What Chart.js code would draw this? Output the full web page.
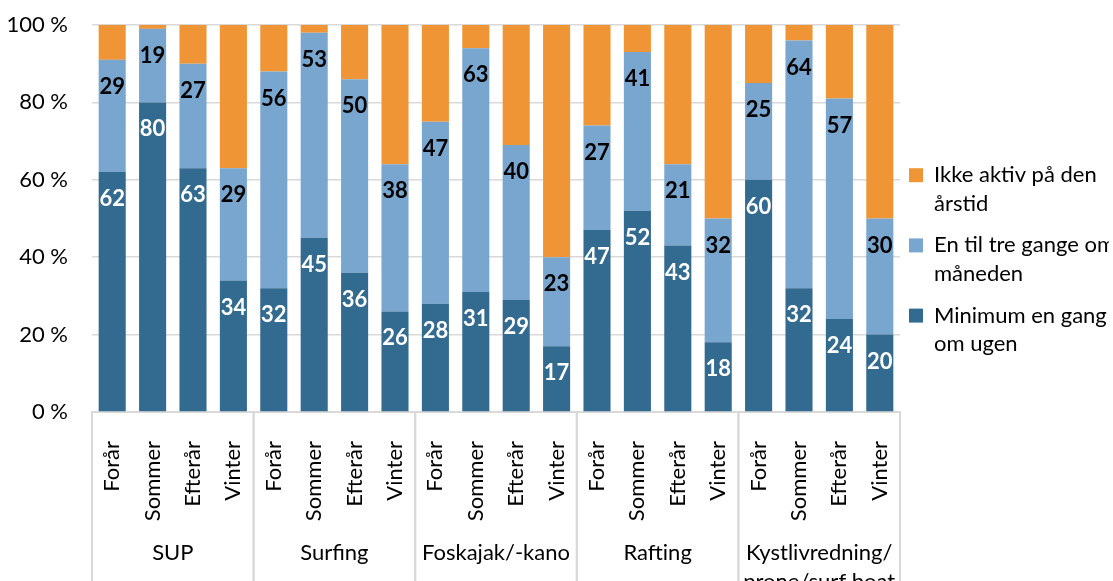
<!DOCTYPE html>
<html>
<head>
<meta charset="utf-8">
<script src="https://cdn.jsdelivr.net/npm/chart.js@4.4.1/dist/chart.umd.min.js"></script>
<style>
  html, body { margin: 0; padding: 0; background: #fff; }
</style>
</head>
<body>
<canvas id="chart" width="1113" height="581"></canvas>
<script>
const seasons = ['Forår', 'Sommer', 'Efterår', 'Vinter'];
const groups = ['SUP', 'Surfing', 'Foskajak/-kano', 'Rafting', ['Kystlivredning/', 'prone/surf boat']];

// share of respondents (%), one value per sport/season, in the order above
const weekly = [62, 80, 63, 34, 32, 45, 36, 26, 28, 31, 29, 17, 47, 52, 43, 18, 60, 32, 24, 20];
const monthly = [29, 19, 27, 29, 56, 53, 50, 38, 47, 63, 40, 23, 27, 41, 21, 32, 25, 64, 57, 30];
const inactive = [9, 1, 10, 37, 12, 2, 14, 36, 25, 6, 31, 60, 26, 7, 36, 50, 15, 4, 19, 50];

const weeklyLabel = ['Minimum en gang', 'om ugen'];
const monthlyLabel = ['En til tre gange om', 'måneden'];
const inactiveLabel = ['Ikke aktiv på den', 'årstid'];

const yTicks = [0, 20, 40, 60, 80, 100];

const labels = groups.flatMap(() => seasons);
const font = 'Lato';

// value labels near the top of the two lower segments
const barLabels = {
    id: 'barLabels',
    afterDatasetsDraw(chart) {
        const ctx = chart.ctx;
        ctx.save();
        ctx.font = 'bold 22px ' + font;
        ctx.textAlign = 'center';
        ctx.textBaseline = 'middle';
        [0, 1].forEach(di => {
            const meta = chart.getDatasetMeta(di);
            ctx.fillStyle = di === 0 ? '#ffffff' : '#000000';
            meta.data.forEach((bar, i) => {
                ctx.fillText(chart.data.datasets[di].data[i], bar.x, bar.y + 27);
            });
        });
        ctx.restore();
    }
};

// second row of the category axis: sport names + separators
const groupAxis = {
    id: 'groupAxis',
    afterDraw(chart) {
        const x = chart.scales.x;
        const ctx = chart.ctx;
        const step = x.getPixelForValue(1) - x.getPixelForValue(0);
        ctx.save();
        ctx.strokeStyle = '#d9d9d9';
        ctx.lineWidth = 2;
        ctx.fillStyle = '#000000';
        ctx.font = '22px ' + font;
        ctx.textAlign = 'center';
        ctx.textBaseline = 'middle';
        groups.forEach((g, i) => {
            const first = i * seasons.length;
            const last = first + seasons.length - 1;
            const left = x.getPixelForValue(first) - step / 2;
            const right = x.getPixelForValue(last) + step / 2;
            [left, right].forEach(px => {
                ctx.beginPath();
                ctx.moveTo(px, x.top);
                ctx.lineTo(px, x.bottom);
                ctx.stroke();
            });
            [].concat(g).forEach((t, k) => {
                ctx.fillText(t, (left + right) / 2, x.bottom - 28 + k * 29);
            });
        });
        ctx.restore();
    }
};

// nudge the legend block to where the original puts it
const legendShift = {
    id: 'legendShift',
    afterLayout(chart) {
        const lg = chart.legend;
        const dy = -40, dx = -4;
        lg.top += dy; lg.bottom += dy;
        lg.left += dx; lg.right += dx;
    }
};

const ctx = document.getElementById('chart').getContext('2d');

const chart = new Chart(ctx, {
    type: 'bar',
    data: {
        labels: labels,
        datasets: [{
            label: weeklyLabel,
            data: weekly,
            backgroundColor: '#336a90'
        }, {
            label: monthlyLabel,
            data: monthly,
            backgroundColor: '#78a6ce'
        }, {
            label: inactiveLabel,
            data: inactive,
            backgroundColor: '#ef9536'
        }]
    },
    options: {
        responsive: false,
        animation: false,
        categoryPercentage: 1,
        barPercentage: 0.67,
        layout: { padding: { top: 25, left: 0, right: 0, bottom: 0 } },
        plugins: {
            tooltip: { enabled: false },
            legend: {
                position: 'right',
                reverse: true,
                maxWidth: 213,
                labels: {
                    boxWidth: 14,
                    boxHeight: 14,
                    padding: 13,
                    color: '#000000',
                    font: { family: font, size: 22, lineHeight: 1.3 }
                }
            }
        },
        scales: {
            x: {
                stacked: true,
                afterFit: s => { s.height = 169; },
                grid: { display: false },
                border: { display: true, color: '#d9d9d9', width: 2 },
                ticks: {
                    autoSkip: false,
                    minRotation: 90,
                    maxRotation: 90,
                    padding: 21,
                    color: '#000000',
                    font: { family: font, size: 22 }
                }
            },
            y: {
                stacked: true,
                min: 0,
                max: 100,
                afterFit: s => {
                    s.width = 92;
                    s.paddingTop = 0;
                    s.paddingBottom = 0;
                },
                afterBuildTicks: s => { s.ticks = yTicks.map(v => ({ value: v })); },
                grid: { color: '#d9d9d9', lineWidth: 1.5, drawTicks: false },
                border: { display: false },
                ticks: {
                    padding: 24,
                    color: '#000000',
                    font: { family: font, size: 22 },
                    callback: v => v + ' %'
                }
            }
        }
    },
    plugins: [barLabels, groupAxis, legendShift]
});
</script>
</body>
</html>
